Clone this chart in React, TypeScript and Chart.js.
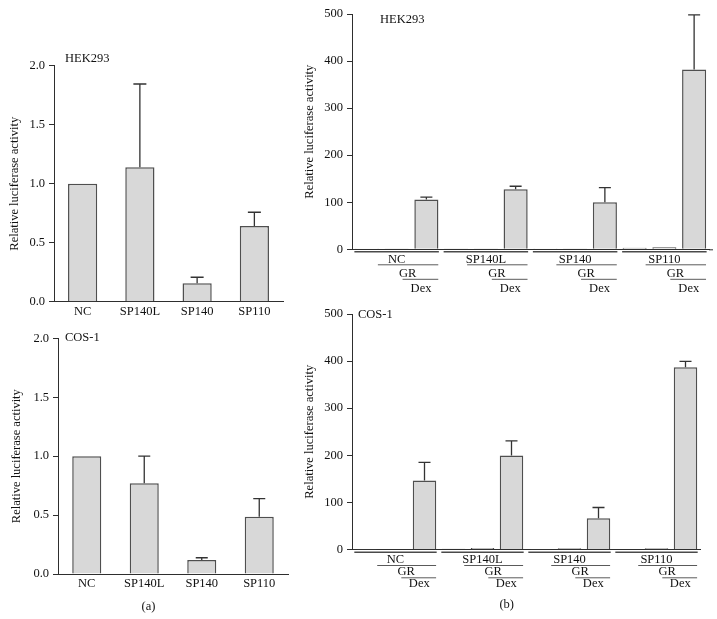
import React, { useEffect, useRef } from "react";
import { Chart, registerables } from "chart.js";
Chart.register(...registerables);

// ---------- DATA ----------
const constructs = ["NC", "SP140L", "SP140", "SP110"];
const yTicksA = [0, 0.5, 1.0, 1.5, 2.0];
const yTicksB = [0, 100, 200, 300, 400, 500];

// (a) HEK293
const hekA = [1.0, 1.14, 0.156, 0.642];
const hekAErr = [0, 0.705, 0.051, 0.116];
// (a) COS-1
const cosA = [1.0, 0.77, 0.119, 0.486];
const cosAErr = [0, 0.23, 0.019, 0.153];

// (b) conditions per construct: reporter only, +GR, +GR+Dex
const treatRows = ["GR", "Dex"];
const conditions = ["", "GR", "GR+Dex"];
const hekB = [0.5, 1.5, 105.7, 1.5, 1.5, 127.7, 0.3, 0.8, 100, 3.5, 4.5, 382];
const hekBErr = [0, 0, 5.3, 0, 0, 6.3, 0, 0, 31, 0, 0, 116];
const cosB = [0.3, 1, 146.6, 1.5, 3, 199.7, 0.3, 2.5, 66.5, 1, 2.5, 386.7];
const cosBErr = [0, 0, 38.2, 0, 0, 31, 0, 0, 22.7, 0, 0, 12.7];

const yTitle = "Relative luciferase activity";

// ---------- STYLE ----------
const FONT_FAMILY = "'Liberation Serif', 'DejaVu Serif', serif";
const FONT_SIZE = 12.5;
const TEXT = "#111111";
const AXIS = "#2e2e2e";

const labelsB = constructs.flatMap((g) => conditions.map((c) => (c ? `${g} ${c}` : g)));

type Overlay = {
  errors: number[];
  capW: number;
  title: { text: string; x: number; y: number };
  letter?: { text: string; x: number; y: number };
  groups?: { seg: number; r1: number; l1: number; r2: number; l2: number; r3: number };
  axisExtend?: number;
};

function overlayPlugin(o: Overlay) {
  return {
    id: "overlay",
    afterDatasetsDraw(chart: any) {
      const ctx = chart.ctx;
      const meta = chart.getDatasetMeta(0);
      const ys = chart.scales.y;
      const data = chart.data.datasets[0].data as number[];
      ctx.save();
      ctx.strokeStyle = "#333";
      ctx.lineWidth = 1.3;
      meta.data.forEach((bar: any, i: number) => {
        const err = o.errors[i];
        if (!err) return;
        const yTop = ys.getPixelForValue(data[i] + err);
        const x = bar.x;
        ctx.beginPath();
        ctx.moveTo(x, bar.y);
        ctx.lineTo(x, yTop);
        ctx.moveTo(x - o.capW / 2, yTop);
        ctx.lineTo(x + o.capW / 2, yTop);
        ctx.stroke();
      });
      ctx.restore();
    },
    afterDraw(chart: any) {
      const ctx = chart.ctx;
      const area = chart.chartArea;
      ctx.save();
      ctx.font = `${FONT_SIZE}px ${FONT_FAMILY}`;
      ctx.fillStyle = TEXT;
      ctx.textBaseline = "middle";
      ctx.textAlign = "left";
      ctx.fillText(o.title.text, o.title.x, o.title.y);
      if (o.axisExtend) {
        ctx.strokeStyle = AXIS;
        ctx.lineWidth = 1;
        ctx.beginPath();
        ctx.moveTo(area.right, area.bottom + 0.5);
        ctx.lineTo(area.right + o.axisExtend, area.bottom + 0.5);
        ctx.stroke();
      }
      if (o.groups) {
        const g = o.groups;
        const xs = chart.scales.x;
        const ay = area.bottom;
        constructs.forEach((name, gi) => {
          const base = gi * 3;
          const px = (d: number) => xs.getPixelForValue(base + d);
          ctx.strokeStyle = "#4a4a4a";
          ctx.lineWidth = 1.6;
          ctx.beginPath();
          ctx.moveTo(px(-0.42), ay + g.seg);
          ctx.lineTo(px(2.42), ay + g.seg);
          ctx.stroke();
          ctx.strokeStyle = "#5a5a5a";
          ctx.lineWidth = 1;
          ctx.beginPath();
          ctx.moveTo(px(0.37), ay + g.l1);
          ctx.lineTo(px(2.4), ay + g.l1);
          ctx.moveTo(px(1.2), ay + g.l2);
          ctx.lineTo(px(2.4), ay + g.l2);
          ctx.stroke();
          ctx.textAlign = "center";
          ctx.fillText(name, px(1.0), ay + g.r1);
          ctx.fillText(treatRows[0], px(1.37), ay + g.r2);
          ctx.fillText(treatRows[1], px(1.82), ay + g.r3);
        });
      }
      if (o.letter) {
        ctx.textAlign = "center";
        ctx.fillText(o.letter.text, o.letter.x, o.letter.y);
      }
      ctx.restore();
    },
  };
}

type PanelCfg = {
  left: number;
  top: number;
  width: number;
  height: number;
  labels: string[];
  values: number[];
  yTicks: number[];
  decimals: number;
  yWidth: number;
  xHeight: number;
  padTop: number;
  padRight: number;
  titlePad: number;
  barPct: number;
  showXTicks: boolean;
  overlay: Overlay;
};

function Panel({ cfg }: { cfg: PanelCfg }) {
  const ref = useRef<HTMLCanvasElement>(null);
  useEffect(() => {
    const font = { family: FONT_FAMILY, size: FONT_SIZE };
    const chart = new Chart(ref.current!, {
      type: "bar",
      data: {
        labels: cfg.labels,
        datasets: [
          {
            data: cfg.values,
            backgroundColor: "#d8d8d8",
            borderColor: "#4f4f4f",
            borderWidth: 1.5,
            barPercentage: cfg.barPct,
            categoryPercentage: 1,
          },
        ],
      },
      options: {
        animation: false,
        responsive: false,
        devicePixelRatio: 1,
        layout: { padding: { top: cfg.padTop, right: cfg.padRight, left: 0, bottom: 0 } },
        plugins: { legend: { display: false }, tooltip: { enabled: false } },
        scales: {
          x: {
            offset: true,
            grid: { drawOnChartArea: false, drawTicks: false },
            border: { display: true, color: AXIS, width: 1 },
            ticks: {
              display: cfg.showXTicks,
              font,
              color: TEXT,
              padding: 2.5,
              maxRotation: 0,
              autoSkip: false,
            },
            afterFit: (s: any) => {
              s.height = cfg.xHeight;
            },
          },
          y: {
            min: cfg.yTicks[0],
            max: cfg.yTicks[cfg.yTicks.length - 1],
            afterBuildTicks: (s: any) => {
              s.ticks = cfg.yTicks.map((v) => ({ value: v }));
            },
            ticks: {
              font,
              color: TEXT,
              padding: 4,
              callback: (v: any) => Number(v).toFixed(cfg.decimals),
            },
            grid: { drawOnChartArea: false, drawTicks: true, tickLength: 5, color: AXIS, lineWidth: 1 },
            border: { display: true, color: AXIS, width: 1 },
            title: {
              display: true,
              text: yTitle,
              font,
              color: TEXT,
              padding: { top: cfg.titlePad, bottom: 0 },
            },
            afterFit: (s: any) => {
              s.width = cfg.yWidth;
            },
          },
        },
      },
      plugins: [overlayPlugin(cfg.overlay)],
    } as any);
    return () => chart.destroy();
  }, []);
  return (
    <canvas
      ref={ref}
      width={cfg.width}
      height={cfg.height}
      style={{ position: "absolute", left: cfg.left, top: cfg.top, width: cfg.width, height: cfg.height }}
    />
  );
}

const panelA: PanelCfg = {
  left: 0, top: 40, width: 300, height: 280,
  labels: constructs, values: hekA, yTicks: yTicksA, decimals: 1,
  yWidth: 54, xHeight: 18.3, padTop: 25.7, padRight: 17, titlePad: 7.5,
  barPct: 0.51, showXTicks: true,
  overlay: { errors: hekAErr, capW: 13, title: { text: "HEK293", x: 65, y: 19.2 } },
};

const panelC: PanelCfg = {
  left: 0, top: 320, width: 300, height: 299,
  labels: constructs, values: cosA, yTicks: yTicksA, decimals: 1,
  yWidth: 58, xHeight: 45, padTop: 18.3, padRight: 12, titlePad: 9.5,
  barPct: 0.505, showXTicks: true,
  overlay: {
    errors: cosAErr, capW: 12, title: { text: "COS-1", x: 65, y: 18 },
    letter: { text: "(a)", x: 148.5, y: 286.7 },
  },
};

const panelB: PanelCfg = {
  left: 295, top: 0, width: 422, height: 300,
  labels: labelsB, values: hekB, yTicks: yTicksB, decimals: 0,
  yWidth: 57, xHeight: 50.7, padTop: 14, padRight: 8, titlePad: 7.5,
  barPct: 0.81, showXTicks: false,
  overlay: {
    errors: hekBErr, capW: 12, title: { text: "HEK293", x: 85, y: 20 },
    groups: { seg: 2.5, r1: 10, l1: 15.5, r2: 24.5, l2: 30, r3: 39 },
    axisExtend: 4,
  },
};

const panelD: PanelCfg = {
  left: 295, top: 300, width: 422, height: 319,
  labels: labelsB, values: cosB, yTicks: yTicksB, decimals: 0,
  yWidth: 57, xHeight: 69.5, padTop: 14, padRight: 17, titlePad: 7.5,
  barPct: 0.81, showXTicks: false,
  overlay: {
    errors: cosBErr, capW: 12, title: { text: "COS-1", x: 63, y: 15 },
    groups: { seg: 2.7, r1: 10, l1: 16, r2: 22.5, l2: 28.3, r3: 34 },
    letter: { text: "(b)", x: 211.7, y: 305 },
  },
};

export default function App() {
  return (
    <div style={{ position: "fixed", left: 0, top: 0, width: 717, height: 619, background: "#fff" }}>
      <Panel cfg={panelA} />
      <Panel cfg={panelC} />
      <Panel cfg={panelB} />
      <Panel cfg={panelD} />
    </div>
  );
}
